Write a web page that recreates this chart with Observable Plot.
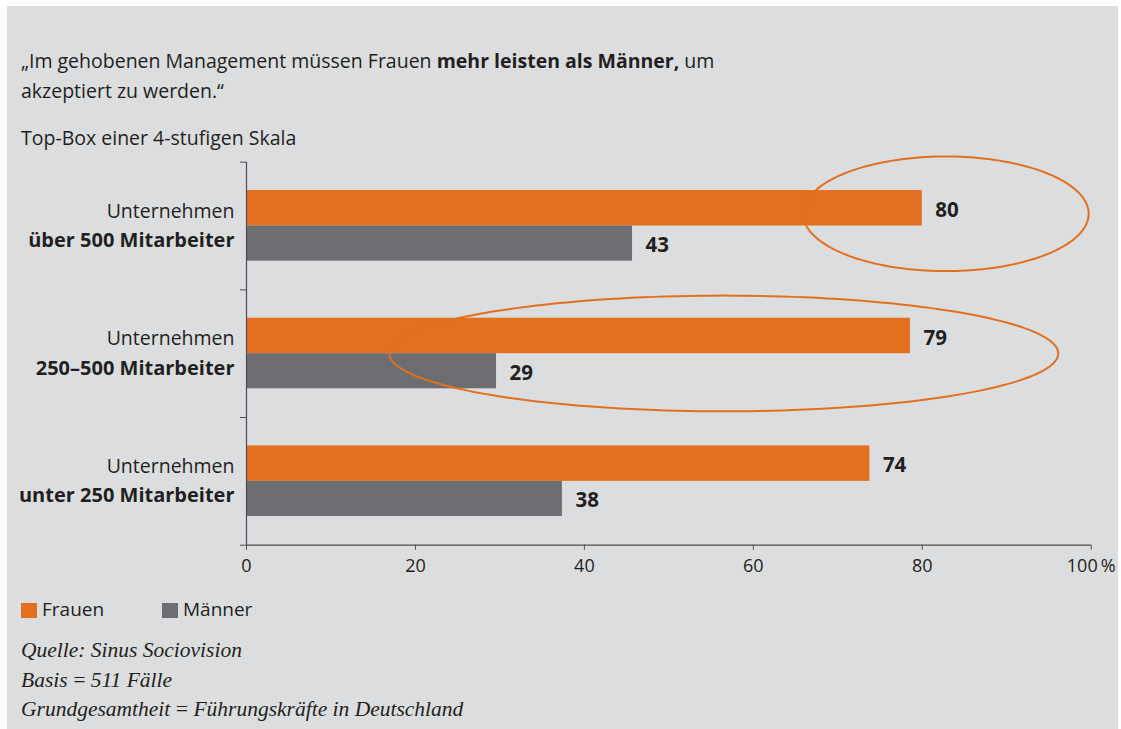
<!DOCTYPE html>
<html><head><meta charset="utf-8">
<script src="https://cdn.jsdelivr.net/npm/d3@7"></script>
<script src="https://cdn.jsdelivr.net/npm/@observablehq/plot@0.6"></script>
<style>
html,body{margin:0;padding:0;background:#fff;}
body{width:1121px;height:729px;position:relative;overflow:hidden;font-family:"Open Sans",sans-serif;color:#231f20;}
#panel{position:absolute;left:7px;top:6px;width:1111px;height:723px;background:#dcdddf;}
.t{position:absolute;left:21px;white-space:nowrap;font-size:19.5px;line-height:30px;}
#chart{position:absolute;left:0;top:0;}
.leg{position:absolute;top:597px;font-size:19px;line-height:24px;white-space:nowrap;}
.sw{display:inline-block;width:16px;height:15px;vertical-align:-2px;margin-right:5px;}
.cap{position:absolute;left:21px;font-family:"Liberation Serif",serif;font-style:italic;font-size:21.5px;line-height:29.5px;white-space:nowrap;}
</style></head>
<body>
<div id="panel"></div>
<div class="t" id="title" style="top:46px;">„Im gehobenen Management müssen Frauen <b>mehr leisten als Männer,</b> um<br>akzeptiert zu werden.“</div>
<div class="t" id="sub" style="top:123px;">Top-Box einer 4-stufigen Skala</div>
<div id="chart"></div>
<div class="leg" id="legend" style="left:21px;"></div>
<div class="cap" id="caption" style="top:636px;"></div>
<script>
const groupPrefix = "Unternehmen";
const groups = ["über 500 Mitarbeiter", "250–500 Mitarbeiter", "unter 250 Mitarbeiter"];
const seriesNames = ["Frauen", "Männer"];
const seriesColors = ["#e3701e", "#6d6e71"];
// bar lengths as drawn in the picture
const frauenValues = [80, 78.6, 73.8];
const maennerValues = [45.7, 29.6, 37.4];
// printed value labels
const frauenLabels = [80, 79, 74];
const maennerLabels = [43, 29, 38];
const xTicks = [0, 20, 40, 60, 80, 100];
// highlight ellipses (center x in %, center y in group units, radii)
const ellipseCx = [82.8, 56.5];
const ellipseCy = [0.404, 1.498];
const ellipseRx = [16.9, 39.6];
const ellipseRy = [0.449, 0.453];
const captionLines = ["Quelle: Sinus Sociovision", "Basis\u2009=\u2009511 Fälle", "Grundgesamtheit\u2009=\u2009Führungskräfte in Deutschland"];

const axisColor = "#4d4d4f";
const textColor = "#231f20";
const slot = {Frauen: [0.222, 0.5], "Männer": [0.5, 0.775]};

const rows = groups.map((g, i) => ({g, i}));
const bars = [];
groups.forEach((g, i) => {
  bars.push({series: "Frauen", i, value: frauenValues[i], label: frauenLabels[i]});
  bars.push({series: "Männer", i, value: maennerValues[i], label: maennerLabels[i]});
});
const ellipsePts = [];
ellipseCx.forEach((cx, k) => {
  const n = 180;
  for (let j = 0; j <= n; j++) {
    const a = 2 * Math.PI * j / n;
    ellipsePts.push({id: k, x: cx + ellipseRx[k] * Math.cos(a), y: ellipseCy[k] + ellipseRy[k] * Math.sin(a)});
  }
});

const plot = Plot.plot({
  width: 1121, height: 600,
  marginLeft: 246, marginRight: 30.3, marginTop: 161.7, marginBottom: 55.3,
  style: {background: "transparent", fontFamily: "'Open Sans', sans-serif", fontSize: "18px", color: textColor, overflow: "visible"},
  x: {domain: [0, 100], axis: null},
  y: {domain: [0, 3], reverse: true, axis: null},
  color: {domain: seriesNames, range: seriesColors},
  marks: [
    Plot.rect(bars, {x1: () => 0, x2: "value", y1: d => d.i + slot[d.series][0], y2: d => d.i + slot[d.series][1], fill: "series"}),
    Plot.line(ellipsePts, {x: "x", y: "y", z: "id", stroke: seriesColors[0], strokeWidth: 2}),
    Plot.ruleX([0], {stroke: axisColor, strokeWidth: 1.2}),
    Plot.ruleY([3], {stroke: axisColor, strokeWidth: 1.2}),
    Plot.axisX({ticks: xTicks, tickSize: 5, tickPadding: 9, stroke: axisColor, fontSize: 18, label: null,
      tickFormat: d => d === 100 ? "100\u2009%" : String(d)}),
    Plot.axisY({ticks: [0, 1, 2, 3], tickSize: 6, stroke: axisColor, label: null, tickFormat: () => ""}),
    Plot.text(rows, {x: () => 0, y: d => d.i + 0.5, text: () => groupPrefix, dx: -12, dy: -14.5, textAnchor: "end", fontSize: 19.5, fill: textColor}),
    Plot.text(rows, {x: () => 0, y: d => d.i + 0.5, text: "g", dx: -12, dy: 14.5, textAnchor: "end", fontSize: 20, fontWeight: "bold", fill: textColor}),
    Plot.text(bars, {x: "value", y: d => d.i + (slot[d.series][0] + slot[d.series][1]) / 2, text: "label", dx: 13, dy: 2, textAnchor: "start", fontSize: 20.5, fontWeight: "bold", fill: textColor})
  ]
});
document.getElementById("chart").appendChild(plot);

const leg = document.getElementById("legend");
seriesNames.forEach((s, k) => {
  const span = document.createElement("span");
  span.style.display = "inline-block";
  span.style.width = k === 0 ? "141px" : "auto";
  span.innerHTML = `<span class="sw" style="background:${seriesColors[k]}"></span>${s}`;
  leg.appendChild(span);
});
document.getElementById("caption").innerHTML = captionLines.join("<br>");
</script>
</body></html>
